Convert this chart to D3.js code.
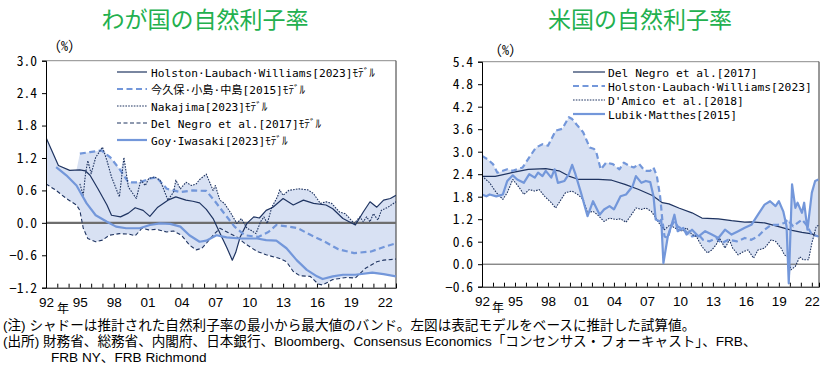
<!DOCTYPE html>
<html><head><meta charset="utf-8">
<script src="https://cdn.jsdelivr.net/npm/d3@7"></script>
<style>
body{margin:0;background:#fff}
#wrap{position:relative;width:824px;height:365px;overflow:hidden}
#wrap svg{position:absolute;left:0;top:0;display:block}
.htext{position:absolute;white-space:nowrap;margin:0;padding:0;color:#000}
</style>
</head><body>
<div id="wrap"><svg id="c" width="824" height="365"></svg></div>
<script>
// ---------------- data ----------------
const xTickYears = [1992,1995,1998,2001,2004,2007,2010,2013,2016,2019,2022];
const xTickLabels = ["92","95","98","01","04","07","10","13","16","19","22"];
const jpYTicks = [-1.2,-0.6,0.0,0.6,1.2,1.8,2.4,3.0];
const usYTicks = [-0.6,0.0,0.6,1.2,1.8,2.4,3.0,3.6,4.2,4.8,5.4];

// Japan (left)
const jpHLW = [[1992.0,1.58],[1993.1,1.06],[1994.1,0.97],[1995.0,0.98],[1995.5,0.96],[1995.9,0.88],[1996.6,0.63],[1997.4,0.33],[1997.8,0.14],[1998.6,0.11],[1999.3,0.18],[1999.9,0.28],[2000.6,0.23],[2001.2,0.12],[2001.9,0.29],[2002.8,0.42],[2003.5,0.48],[2004.4,0.42],[2005.0,0.40],[2005.6,0.37],[2006.2,0.25],[2006.8,0.08],[2007.4,-0.19],[2008.0,-0.45],[2008.5,-0.69],[2008.8,-0.55],[2009.2,-0.26],[2009.8,-0.01],[2010.4,0.11],[2010.9,0.09],[2011.5,0.23],[2012.1,0.29],[2013.0,0.45],[2013.9,0.33],[2014.8,0.42],[2015.7,0.36],[2016.8,0.33],[2017.4,0.26],[2018.3,0.08],[2019.4,-0.04],[2020.1,0.20],[2020.7,0.39],[2021.3,0.29],[2021.9,0.42],[2022.5,0.45],[2023.0,0.51]];
const jpImakubo = [[1995.0,1.28],[1995.9,1.31],[1996.9,1.34],[1997.7,1.21],[1998.5,1.00],[1999.3,0.75],[2000.3,0.75],[2001.2,0.82],[2001.8,0.84],[2002.7,0.63],[2003.9,0.57],[2005.0,0.60],[2006.2,0.59],[2007.0,0.39],[2007.8,0.17],[2008.7,-0.07],[2009.6,-0.23],[2010.8,-0.26],[2011.7,-0.17],[2012.4,-0.04],[2013.5,-0.07],[2014.3,-0.10],[2015.5,-0.23],[2016.7,-0.35],[2017.9,-0.49],[2019.3,-0.56],[2020.8,-0.53],[2022.0,-0.44],[2023.0,-0.38]];
const jpNakajima = [[1995.0,0.72],[1995.3,0.51],[1995.5,0.91],[1995.7,1.15],[1996.0,0.91],[1996.4,1.21],[1997.0,1.40],[1997.4,1.15],[1997.8,0.85],[1998.5,0.48],[1998.9,1.21],[1999.3,0.66],[2000.0,0.45],[2000.4,0.79],[2000.8,0.69],[2001.1,0.82],[2001.6,0.85],[2002.1,0.79],[2002.8,0.42],[2003.3,0.57],[2003.5,0.79],[2003.9,0.63],[2004.4,0.75],[2004.9,0.69],[2005.3,0.72],[2005.6,0.80],[2006.2,0.90],[2006.5,0.75],[2006.8,0.60],[2007.0,0.69],[2007.4,0.42],[2007.8,0.36],[2008.4,0.17],[2008.9,-0.01],[2009.3,0.08],[2009.8,-0.10],[2010.1,-0.13],[2010.6,-0.20],[2011.0,0.02],[2011.3,0.11],[2011.6,-0.01],[2012.0,0.29],[2012.5,0.48],[2012.7,0.61],[2013.0,0.51],[2013.5,0.60],[2014.4,0.63],[2015.2,0.61],[2015.7,0.54],[2016.3,0.36],[2016.8,0.39],[2017.3,0.36],[2018.0,0.20],[2018.5,0.17],[2018.9,0.08],[2019.3,-0.01],[2019.8,0.11],[2020.1,0.02],[2020.4,0.11],[2020.7,0.02],[2021.0,0.17],[2021.4,0.05],[2021.7,0.23],[2022.3,0.29],[2023.0,0.39]];
const jpDelNegro = [[1992.0,0.72],[1992.9,0.60],[1993.8,0.45],[1994.7,0.33],[1995.0,0.23],[1995.3,-0.10],[1995.7,-0.29],[1996.4,-0.35],[1997.0,-0.32],[1997.6,-0.23],[1998.5,-0.20],[1999.4,-0.21],[1999.9,-0.24],[2000.5,-0.10],[2001.1,-0.13],[2001.8,-0.12],[2002.7,-0.17],[2003.3,-0.15],[2004.0,-0.23],[2004.7,-0.41],[2005.3,-0.50],[2005.8,-0.47],[2006.2,-0.38],[2006.8,-0.23],[2007.4,-0.10],[2008.3,-0.20],[2008.9,-0.26],[2009.6,-0.38],[2010.7,-0.53],[2011.5,-0.59],[2012.7,-0.66],[2013.3,-0.72],[2013.9,-0.90],[2014.5,-0.98],[2015.4,-0.99],[2016.1,-1.13],[2016.5,-1.15],[2017.4,-1.05],[2018.6,-1.01],[2019.4,-1.02],[2020.3,-0.84],[2021.3,-0.72],[2021.9,-0.69],[2023.0,-0.67]];
const jpGoyIwasaki = [[1992.9,1.03],[1993.8,0.88],[1994.7,0.69],[1995.6,0.36],[1996.4,0.14],[1997.4,0.02],[1998.2,-0.07],[1999.1,-0.10],[2000.3,-0.10],[2001.2,-0.04],[2002.1,-0.01],[2003.0,-0.02],[2003.9,-0.07],[2004.7,-0.23],[2005.6,-0.35],[2006.2,-0.33],[2007.1,-0.23],[2008.0,-0.27],[2009.2,-0.29],[2010.7,-0.29],[2011.5,-0.32],[2012.4,-0.33],[2013.3,-0.47],[2014.2,-0.69],[2015.1,-0.87],[2016.0,-0.99],[2016.5,-1.04],[2017.4,-0.99],[2018.3,-0.96],[2019.4,-0.96],[2020.9,-0.92],[2021.9,-0.95],[2023.0,-0.99]];

// United States (right)
const usDelNegro = [[1992.0,2.34],[1993.2,2.34],[1994.7,2.44],[1996.2,2.53],[1997.8,2.55],[1999.0,2.49],[1999.9,2.35],[2000.8,2.26],[2002.6,2.26],[2003.8,2.24],[2005.0,2.13],[2006.2,2.00],[2007.5,1.83],[2008.4,1.64],[2009.0,1.61],[2009.9,1.50],[2011.1,1.37],[2012.0,1.23],[2013.5,1.21],[2014.7,1.16],[2015.9,1.12],[2016.5,1.13],[2017.7,1.10],[2018.9,1.01],[2020.2,0.90],[2021.1,0.85],[2022.0,0.81],[2022.6,0.74]];
const usHLW = [[1992.0,2.89],[1992.5,2.80],[1993.0,2.67],[1993.4,2.44],[1993.9,2.49],[1994.3,2.53],[1994.8,2.49],[1995.7,2.58],[1996.3,2.85],[1996.9,3.11],[1997.5,3.20],[1998.0,3.16],[1998.7,3.56],[1999.3,3.61],[1999.9,3.92],[2000.2,3.87],[2000.7,3.69],[2001.2,3.52],[2001.8,3.11],[2002.2,3.07],[2002.4,2.98],[2002.8,2.53],[2003.3,2.71],[2003.9,2.67],[2004.5,2.53],[2004.9,2.71],[2005.4,2.62],[2005.8,2.58],[2006.3,2.67],[2006.8,2.49],[2007.3,2.49],[2007.6,2.58],[2007.9,2.35],[2008.2,1.81],[2008.4,1.19],[2008.6,0.74],[2008.9,0.70],[2009.2,1.01],[2009.5,1.14],[2009.8,1.01],[2010.5,0.88],[2011.1,0.74],[2011.7,0.79],[2012.1,0.65],[2012.7,0.61],[2013.3,0.70],[2013.8,0.56],[2014.4,0.65],[2015.2,0.61],[2015.9,0.70],[2016.5,0.65],[2017.1,0.74],[2017.7,0.92],[2018.3,1.05],[2018.9,1.05],[2019.5,1.10],[2019.8,1.19],[2020.3,1.01],[2021.1,1.19],[2021.5,1.05],[2022.0,0.79],[2022.6,0.74]];
const usDAmico = [[1992.0,2.35],[1992.7,2.17],[1993.3,1.91],[1993.9,1.73],[1994.3,1.91],[1994.8,2.26],[1995.4,2.04],[1995.8,1.86],[1996.3,1.99],[1996.8,1.95],[1997.2,1.99],[1997.7,1.81],[1998.3,1.64],[1998.7,1.50],[1999.2,1.73],[1999.6,1.91],[2000.2,1.95],[2000.7,1.86],[2001.2,1.73],[2001.6,1.37],[2002.1,1.41],[2002.5,1.32],[2003.1,1.14],[2003.6,1.23],[2004.2,1.19],[2004.6,1.21],[2005.1,1.12],[2005.5,1.28],[2006.0,1.50],[2006.5,1.46],[2006.9,1.50],[2007.4,1.41],[2007.7,1.28],[2008.2,1.05],[2008.6,0.92],[2009.1,1.05],[2009.5,0.97],[2010.2,0.88],[2010.6,0.97],[2011.1,0.79],[2011.5,0.74],[2012.0,0.47],[2012.5,0.30],[2012.9,0.38],[2013.3,0.52],[2013.6,0.70],[2014.1,0.43],[2014.5,0.65],[2014.8,0.43],[2015.3,0.25],[2015.8,0.34],[2016.2,0.38],[2016.7,0.16],[2017.1,0.38],[2017.7,0.43],[2018.3,0.65],[2018.7,0.61],[2019.2,0.43],[2019.5,0.25],[2019.8,0.20],[2020.1,-0.15],[2020.5,-0.06],[2020.9,0.20],[2021.2,0.12],[2021.7,0.12],[2022.0,0.56],[2022.4,1.01],[2022.6,1.03]];
const usLubikMatthes = [[1992.0,1.86],[1992.4,1.81],[1992.7,1.86],[1993.3,1.81],[1993.9,1.86],[1994.3,2.22],[1994.8,2.37],[1995.2,2.26],[1995.8,2.17],[1996.3,2.40],[1996.8,2.31],[1997.1,2.44],[1997.5,2.35],[1997.8,2.49],[1998.3,2.31],[1998.6,2.53],[1998.9,2.17],[1999.5,2.22],[1999.9,2.40],[2000.2,2.65],[2000.5,2.40],[2001.0,1.91],[2001.6,1.28],[2002.1,1.68],[2002.7,1.32],[2003.1,1.46],[2003.6,1.55],[2004.0,1.46],[2004.6,1.81],[2005.1,1.86],[2005.7,2.08],[2006.0,2.35],[2006.5,2.17],[2006.9,2.22],[2007.3,2.19],[2007.6,1.81],[2007.8,1.19],[2008.2,1.14],[2008.3,1.19],[2008.5,0.03],[2008.9,0.74],[2009.2,1.01],[2009.5,1.32],[2009.8,0.88],[2010.3,0.97],[2010.6,0.79],[2011.1,0.92],[2011.7,0.74],[2012.3,0.88],[2012.9,0.79],[2013.5,0.70],[2014.1,0.92],[2014.7,0.79],[2015.3,0.88],[2015.9,0.97],[2016.5,1.05],[2017.1,1.32],[2017.7,1.59],[2018.2,1.68],[2018.7,1.55],[2019.0,1.68],[2019.4,1.41],[2019.7,1.01],[2019.9,-0.51],[2020.2,2.13],[2020.5,1.50],[2020.7,1.64],[2021.1,1.37],[2021.3,1.64],[2021.6,0.92],[2022.0,1.91],[2022.3,2.22],[2022.6,2.26]];

const jpLegendLabels = ["Holston·Laubach·Williams[2023]ﾓﾃﾞﾙ","今久保·小島·中島[2015]ﾓﾃﾞﾙ","Nakajima[2023]ﾓﾃﾞﾙ","Del Negro et al.[2017]ﾓﾃﾞﾙ","Goy·Iwasaki[2023]ﾓﾃﾞﾙ"];
const usLegendLabels = ["Del Negro et al.[2017]","Holston·Laubach·Williams[2023]","D'Amico et al.[2018]","Lubik·Matthes[2015]"];
const titles = ["わが国の自然利子率","米国の自然利子率"];
const notes = ["(注) シャドーは推計された自然利子率の最小から最大値のバンド。左図は表記モデルをベースに推計した試算値。",
  "(出所) 財務省、総務省、内閣府、日本銀行、Bloomberg、Consensus Economics「コンセンサス・フォーキャスト」、FRB、",
  "FRB NY、FRB Richmond"];

// ---------------- styles ----------------
const DARK = "#1f3461", LIGHT = "#7397da", BAND = "#d8e1f3", GREEN = "#22b04e";
const MONO = "'Noto Sans Mono CJK JP','Noto Sans Mono CJK SC','DejaVu Sans Mono',monospace";
const LEGEND_FONT = "'DejaVu Sans Mono','Noto Sans Mono CJK JP','Noto Sans CJK JP',monospace";
const NOTE_FONT = "'Liberation Sans','Noto Sans CJK JP',sans-serif";
const JP = "'Noto Sans CJK JP','Noto Sans',sans-serif";
const NUM = "'Liberation Sans Narrow','Liberation Sans',Arial,sans-serif";
const sSolidDark = {color:DARK,width:1.2,dash:null};
const sDashDark = {color:DARK,width:1.1,dash:"4,2.5"};
const sDotDark = {color:DARK,width:1.1,dash:"1.6,1.2"};
const sSolidLight = {color:LIGHT,width:2.2,dash:null};
const sDashLight = {color:LIGHT,width:2.2,dash:"6,3.5"};

const svg = d3.select("#c");
const wrap = d3.select("#wrap");

// HTML text line with a fixed line box, baseline placed at (x, baselineY)
function htmlLine(text, x, baselineY, font, size, lineH){
  const div = wrap.append("div").attr("class", "htext")
    .style("left", x + "px").style("top", "0px")
    .style("font-family", font).style("font-size", size + "px")
    .style("line-height", lineH + "px").style("height", lineH + "px");
  const span = div.append("span").text(text);
  const mark = div.append("span").style("display", "inline-block").style("width", "0px").style("height", "0px");
  const obj = {div, span, mark};
  refit(obj, baselineY, size);
  return obj;
}
function refit(obj, baselineY, size){
  obj.div.style("font-size", size + "px").style("top", "0px");
  const wr = wrap.node().getBoundingClientRect();
  const base = obj.mark.node().getBoundingClientRect().bottom - wr.top;
  obj.div.style("top", (baselineY - base) + "px");
}

function interp(s, t){
  if (t < s[0][0] - 1e-9 || t > s[s.length-1][0] + 1e-9) return null;
  const i = d3.bisector(d => d[0]).left(s, t);
  if (i <= 0) return s[0][1];
  if (i >= s.length) return s[s.length-1][1];
  const a = s[i-1], b = s[i];
  return a[1] + (b[1]-a[1]) * (t-a[0]) / (b[0]-a[0]);
}

function drawChart(c){
  const x = d3.scaleLinear().domain(c.xDomain).range([c.left, c.right]);
  const y = d3.scaleLinear().domain([c.yTicks[0], c.yTicks[c.yTicks.length-1]]).range([c.bottom, c.top]);
  const g = svg.append("g");
  const clipId = "clip" + c.id;
  svg.append("clipPath").attr("id", clipId).append("rect")
    .attr("x", c.left).attr("y", c.top).attr("width", c.right - c.left).attr("height", c.bottom - c.top);

  // band (min-max envelope of the estimates)
  const ts = Array.from(new Set(c.series.flatMap(s => s.data.map(d => d[0])))).sort((a,b)=>a-b);
  const band = ts.map(t => {
    const vals = c.series.map(s => interp(s.data, t)).filter(v => v !== null);
    return {t, lo: d3.min(vals), hi: d3.max(vals)};
  });
  g.append("path").attr("clip-path", `url(#${clipId})`)
    .attr("d", d3.area().x(d => x(d.t)).y0(d => y(d.lo)).y1(d => y(d.hi))(band))
    .attr("fill", BAND);

  // frame top/right
  g.append("line").attr("x1", c.left).attr("x2", c.right).attr("y1", c.top).attr("y2", c.top)
    .attr("stroke", "#8c8c8c").attr("stroke-width", 1);
  g.append("line").attr("x1", c.right).attr("x2", c.right).attr("y1", c.top).attr("y2", c.bottom)
    .attr("stroke", "#333").attr("stroke-width", 1);

  // zero line
  g.append("line").attr("x1", c.left).attr("x2", c.right).attr("y1", y(0)).attr("y2", y(0))
    .attr("stroke", c.zeroColor).attr("stroke-width", c.zeroWidth);

  // series
  c.series.forEach(s => {
    g.append("path").attr("clip-path", `url(#${clipId})`)
      .attr("d", d3.line().x(d => x(d[0])).y(d => y(d[1]))(s.data))
      .attr("fill", "none").attr("stroke", s.style.color).attr("stroke-width", s.style.width)
      .attr("stroke-dasharray", s.style.dash).attr("stroke-linejoin", "round");
  });

  // y axis
  const ya = d3.axisLeft(y).tickValues(c.yTicks).tickSize(4).tickFormat(d3.format(".1f"));
  const yg = g.append("g").attr("transform", `translate(${c.left},0)`).call(ya);
  yg.select(".domain").attr("stroke", "#000");
  yg.selectAll(".tick line").attr("stroke", "#000");
  yg.selectAll(".tick text").attr("x", -9).attr("font-family", MONO).attr("font-size", 13.5).attr("fill", "#000");

  // x axis
  const years = d3.range(Math.ceil(c.xDomain[0]), Math.floor(c.xDomain[1]) + 1);
  const xa = d3.axisBottom(x).tickValues(years).tickSize(-4).tickFormat(d => {
    const i = xTickYears.indexOf(d); return i >= 0 ? xTickLabels[i] : "";
  });
  const xg = g.append("g").attr("transform", `translate(0,${c.bottom})`).call(xa);
  xg.select(".domain").attr("stroke", "#000");
  xg.selectAll(".tick line").attr("stroke", "#000");
  xg.selectAll(".tick text").attr("y", 10).attr("font-family", NUM).attr("font-size", 13.5).attr("fill", "#000");
  g.append("text").attr("x", x(1992) + c.nenDx).attr("y", c.bottom + 25).attr("font-family", JP)
    .attr("font-size", 12).attr("text-anchor", "middle").text("年");

  // (%)
  g.append("text").attr("x", c.pctX).attr("y", c.pctY).attr("font-family", MONO).attr("font-size", 14)
    .text("（%）");

  // title
  g.append("text").attr("x", c.titleX).attr("y", 28).attr("text-anchor", "middle")
    .attr("font-family", JP).attr("font-size", 23).attr("fill", GREEN).text(c.title);

  // legend: sample lines in SVG, labels as fixed-height HTML lines
  const L = c.legend;
  const rows = [];
  L.labels.forEach((lab, i) => {
    const yy = L.y0 + i * L.dy;
    const st = L.styles[i];
    g.append("line").attr("x1", L.x1).attr("x2", L.x2).attr("y1", yy).attr("y2", yy)
      .attr("stroke", st.color).attr("stroke-width", st.width).attr("stroke-dasharray", st.dash);
    rows.push({obj: htmlLine(lab, L.tx, yy + 4.5, L.font, 13, L.dy), yy});
  });
  const refW = rows[L.refIdx].obj.span.node().getBoundingClientRect().width;
  const fs = Math.max(9, Math.min(15, 13 * L.refW / refW));
  rows.forEach(r => refit(r.obj, r.yy + 4.5, fs));
}

drawChart({
  id: "jp", left: 46, right: 396, top: 60.7, bottom: 287.7, xDomain: [1992, 2023], yTicks: jpYTicks,
  zeroColor: "#6e6e6e", zeroWidth: 2.2, nenDx: 17, pctX: 47, pctY: 51, titleX: 205, title: titles[0],
  series: [
    {data: jpHLW, style: sSolidDark},
    {data: jpImakubo, style: sDashLight},
    {data: jpNakajima, style: sDotDark},
    {data: jpDelNegro, style: sDashDark},
    {data: jpGoyIwasaki, style: sSolidLight}
  ],
  legend: {labels: jpLegendLabels, styles: [sSolidDark, sDashLight, sDotDark, sDashDark, sSolidLight],
    x1: 117, x2: 147, tx: 151, y0: 72, dy: 17, refIdx: 0, refW: 224, font: LEGEND_FONT}
});

drawChart({
  id: "us", left: 482, right: 819, top: 61.7, bottom: 286.7, xDomain: [1992, 2022.65], yTicks: usYTicks,
  zeroColor: "#555", zeroWidth: 1, nenDx: 16, pctX: 488, pctY: 55, titleX: 640, title: titles[1],
  series: [
    {data: usDelNegro, style: sSolidDark},
    {data: usHLW, style: sDashLight},
    {data: usDAmico, style: sDotDark},
    {data: usLubikMatthes, style: sSolidLight}
  ],
  legend: {labels: usLegendLabels, styles: [sSolidDark, sDashLight, sDotDark, sSolidLight],
    x1: 573, x2: 605, tx: 608, y0: 72, dy: 14, refIdx: 1, refW: 204, font: LEGEND_FONT}
});

// notes
htmlLine(notes[0], 3, 330, NOTE_FONT, 13.6, 16);
htmlLine(notes[1], 3, 346, NOTE_FONT, 13.6, 16);
htmlLine(notes[2], 51, 362, NOTE_FONT, 13.6, 16);
</script>
</body></html>
